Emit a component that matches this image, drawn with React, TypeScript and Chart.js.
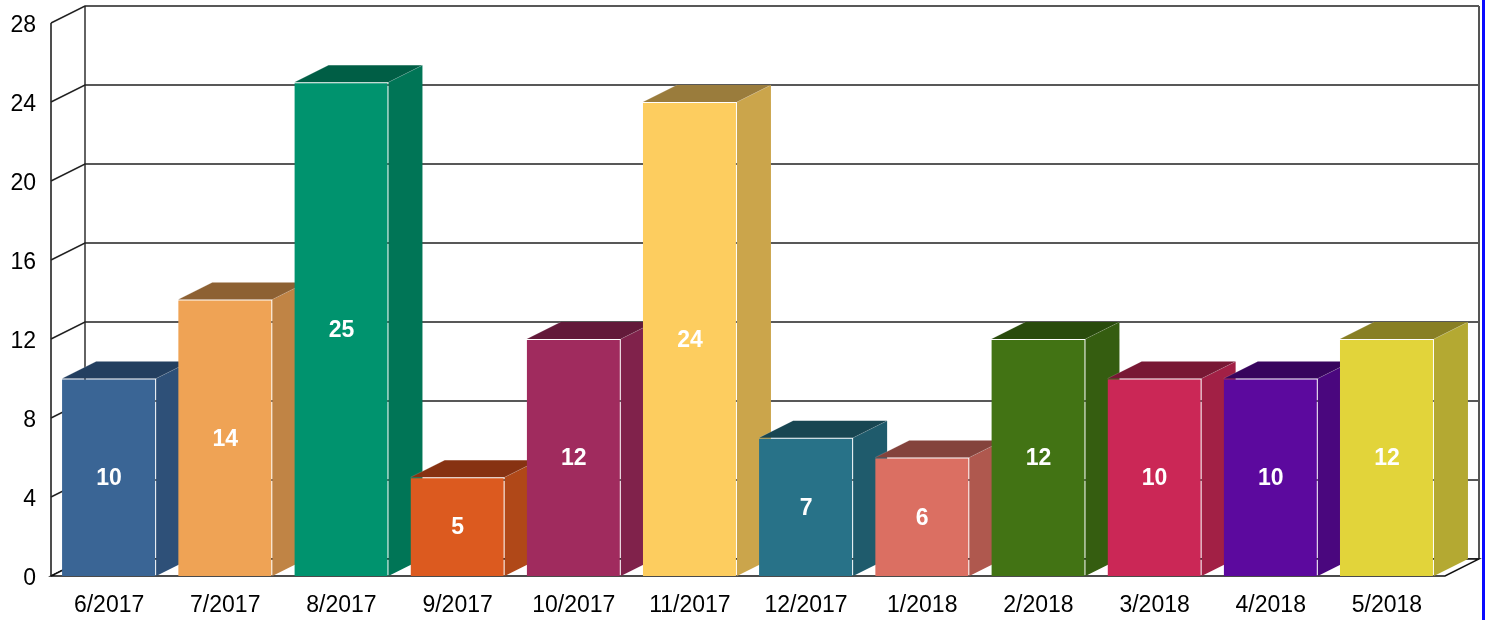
import React, { useEffect, useRef } from "react";
import { Chart, registerables } from "chart.js";

Chart.register(...registerables);

const categories = ["6/2017", "7/2017", "8/2017", "9/2017", "10/2017", "11/2017", "12/2017", "1/2018", "2/2018", "3/2018", "4/2018", "5/2018"];
const values = [10, 14, 25, 5, 12, 24, 7, 6, 12, 10, 10, 12];
const frontColors = ["#3A6595", "#EFA355", "#00936E", "#DC5A1F", "#A02B5E", "#FDCD5F", "#287288", "#DB6F62", "#427314", "#CB2756", "#5C099E", "#E2D43A"];
const sideColors = ["#2E5078", "#C08445", "#007556", "#B04818", "#80224B", "#CBA54B", "#1F5B6C", "#AF584E", "#355D10", "#A22045", "#4A077E", "#B4A932"];
const topColors = ["#233F60", "#8D6133", "#005E45", "#873212", "#631A3A", "#9A7C3C", "#184652", "#84433C", "#294B0C", "#781834", "#37055D", "#887F24"];
const yTicks = [0, 4, 8, 12, 16, 20, 24, 28];

const DX = 34;
const DY = -17;
const FONT = "Arial, 'Liberation Sans', sans-serif";

const threeD = {
  id: "threeD",
  beforeDatasetsDraw(chart: any) {
    const { ctx, chartArea } = chart;
    const y = chart.scales.y;
    const { left, right, top, bottom } = chartArea;
    ctx.save();
    ctx.fillStyle = "#ffffff";
    ctx.fillRect(left + DX, top + DY, right - left, bottom - top);
    ctx.strokeStyle = "#222222";
    ctx.lineWidth = 1.4;
    yTicks.forEach((v) => {
      const py = y.getPixelForValue(v);
      ctx.beginPath();
      ctx.moveTo(left, py);
      ctx.lineTo(left + DX, py + DY);
      ctx.lineTo(right + DX, py + DY);
      ctx.stroke();
    });
    ctx.beginPath();
    ctx.moveTo(left + DX, top + DY);
    ctx.lineTo(left + DX, bottom + DY);
    ctx.stroke();
    ctx.lineWidth = 1.6;
    ctx.beginPath();
    ctx.moveTo(left, top);
    ctx.lineTo(left, bottom);
    ctx.stroke();
    ctx.strokeStyle = "#555555";
    ctx.lineWidth = 2;
    ctx.beginPath();
    ctx.moveTo(right + DX, top + DY);
    ctx.lineTo(right + DX, bottom + DY);
    ctx.stroke();
    ctx.fillStyle = "#ffffff";
    ctx.beginPath();
    ctx.moveTo(left, bottom);
    ctx.lineTo(right, bottom);
    ctx.lineTo(right + DX, bottom + DY);
    ctx.lineTo(left + DX, bottom + DY);
    ctx.closePath();
    ctx.fill();
    ctx.strokeStyle = "#111111";
    ctx.lineWidth = 1.4;
    ctx.stroke();
    ctx.restore();

    const meta = chart.getDatasetMeta(0);
    meta.data.forEach((bar: any, i: number) => {
      const x0 = bar.x - bar.width / 2;
      const x1 = bar.x + bar.width / 2;
      const yt = bar.y;
      const yb = bar.base;
      ctx.save();
      ctx.fillStyle = sideColors[i];
      ctx.beginPath();
      ctx.moveTo(x1, yt);
      ctx.lineTo(x1 + DX, yt + DY);
      ctx.lineTo(x1 + DX, yb + DY);
      ctx.lineTo(x1, yb);
      ctx.closePath();
      ctx.fill();
      ctx.fillStyle = topColors[i];
      ctx.beginPath();
      ctx.moveTo(x0, yt);
      ctx.lineTo(x0 + DX, yt + DY);
      ctx.lineTo(x1 + DX, yt + DY);
      ctx.lineTo(x1, yt);
      ctx.closePath();
      ctx.fill();
      ctx.strokeStyle = "rgba(255,255,255,0.15)";
      ctx.lineWidth = 1;
      ctx.beginPath();
      ctx.moveTo(x0, yt);
      ctx.lineTo(x0 + DX, yt + DY);
      ctx.moveTo(x1, yt);
      ctx.lineTo(x1 + DX, yt + DY);
      ctx.stroke();
      ctx.restore();
      bar.draw(ctx, chartArea);
    });
  },
  beforeDatasetDraw() {
    return false;
  },
  afterDatasetsDraw(chart: any) {
    const { ctx } = chart;
    const meta = chart.getDatasetMeta(0);
    ctx.save();
    ctx.fillStyle = "#ffffff";
    ctx.font = `bold 23px ${FONT}`;
    ctx.textAlign = "center";
    ctx.textBaseline = "middle";
    meta.data.forEach((bar: any, i: number) => {
      ctx.fillText(String(values[i]), bar.x, (bar.y + bar.base) / 2 + 1.5);
    });
    ctx.restore();
  },
};

export default function App() {
  const ref = useRef<HTMLCanvasElement | null>(null);
  useEffect(() => {
    if (!ref.current) return;
    const chart = new Chart(ref.current, {
      type: "bar",
      data: {
        labels: categories,
        datasets: [
          {
            data: values,
            backgroundColor: frontColors,
            borderColor: "rgba(255,255,255,0.15)",
            borderWidth: { top: 1, right: 1, left: 0, bottom: 0 },
            borderSkipped: false,
            barPercentage: 1,
            categoryPercentage: 0.81,
          },
        ],
      },
      options: {
        responsive: false,
        animation: false,
        devicePixelRatio: 1,
        layout: { padding: { top: 23, right: 43, left: 0, bottom: 0 } },
        plugins: { legend: { display: false }, tooltip: { enabled: false }, title: { display: false } },
        scales: {
          x: {
            type: "category",
            grid: { display: false, drawTicks: false },
            border: { display: false },
            ticks: {
              color: "#000",
              font: { family: FONT, size: 23 },
              padding: 16,
              autoSkip: false,
              maxRotation: 0,
              minRotation: 0,
            },
            afterFit: (s: any) => {
              s.height = 44;
              s.paddingLeft = 0;
              s.paddingRight = 0;
            },
          },
          y: {
            min: 0,
            max: 28,
            grid: { display: false, drawTicks: false },
            border: { display: false },
            ticks: {
              stepSize: 4,
              color: "#000",
              font: { family: FONT, size: 23 },
              padding: 15,
              labelOffset: 3,
            },
            afterFit: (s: any) => {
              s.width = 51;
              s.paddingTop = 0;
              s.paddingBottom = 0;
            },
          },
        },
      },
      plugins: [threeD as any],
    });
    return () => chart.destroy();
  }, []);
  return (
    <div style={{ position: "absolute", left: 0, top: 0, width: 1488, height: 620, background: "#fff" }}>
      <canvas ref={ref} width={1488} height={620} style={{ display: "block" }} />
      <div style={{ position: "absolute", left: 1482, top: 0, width: 3, height: 620, background: "#0a0aff" }} />
    </div>
  );
}
